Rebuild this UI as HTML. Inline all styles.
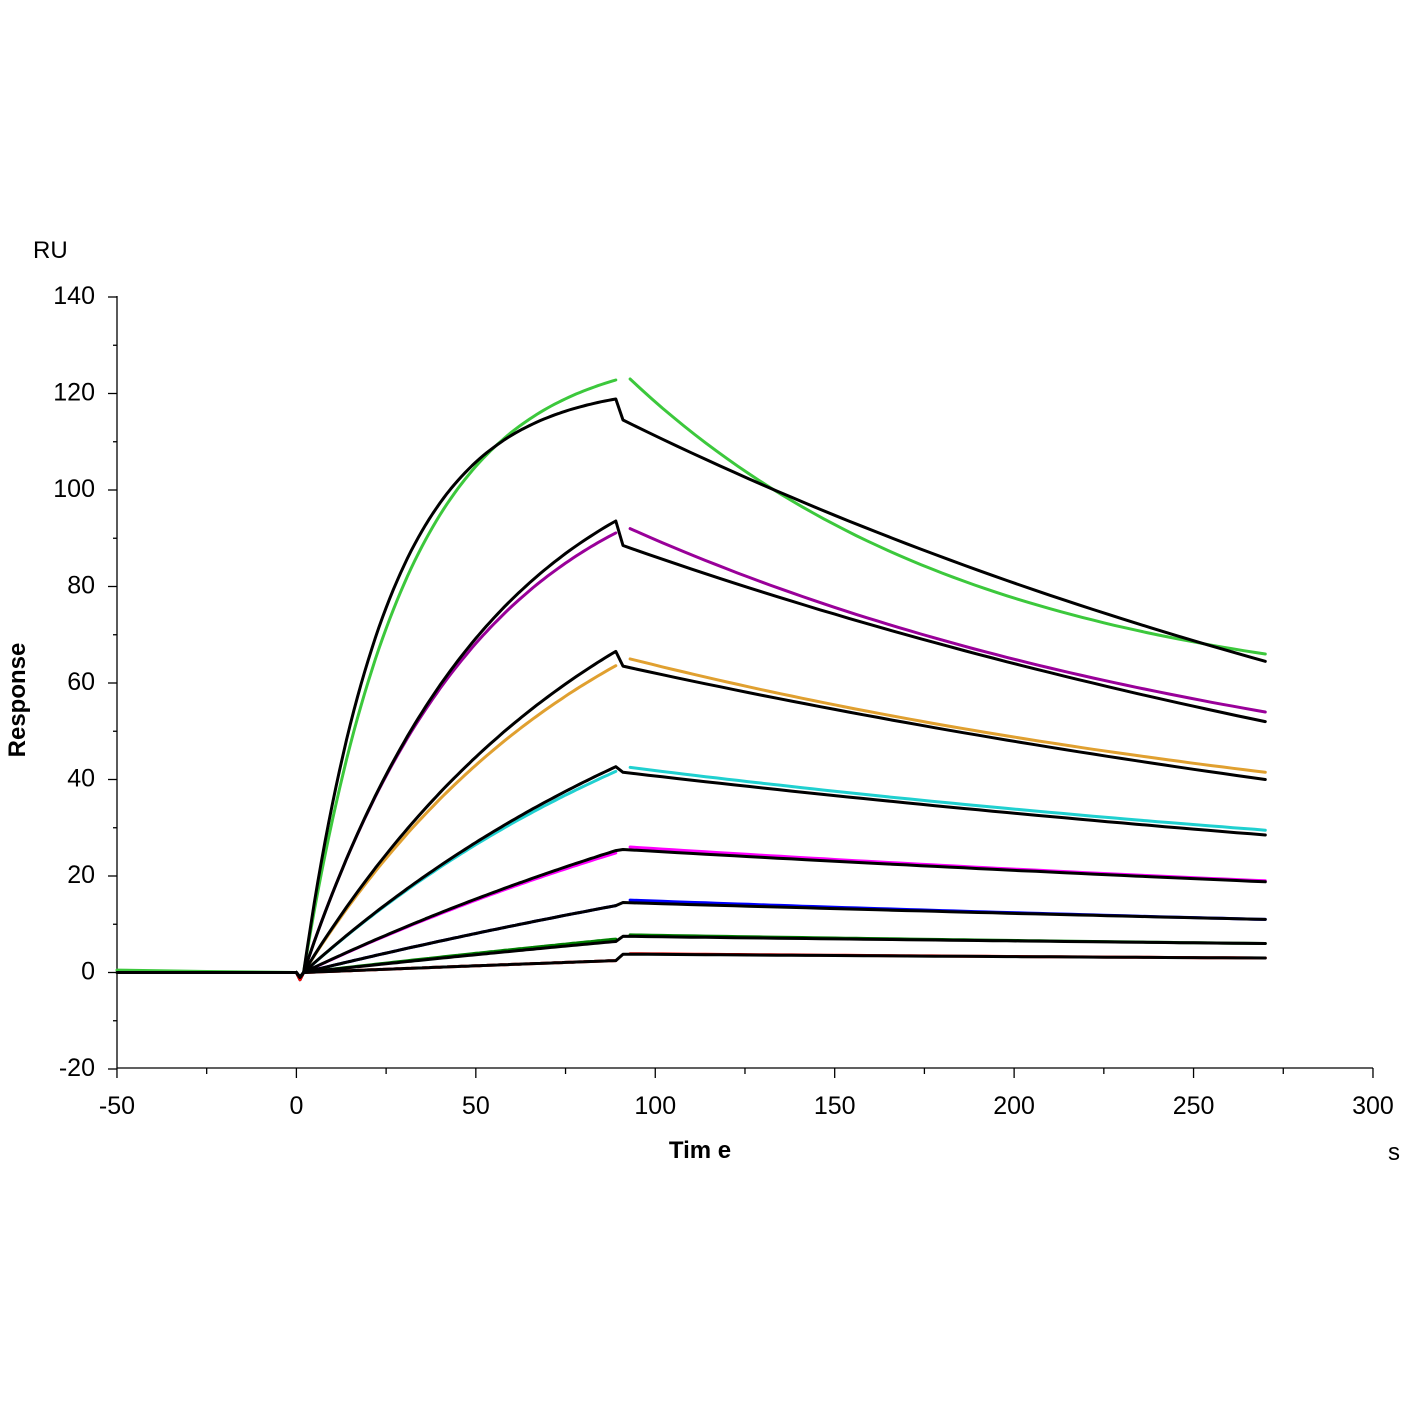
<!DOCTYPE html>
<html><head><meta charset="utf-8"><style>
html,body{margin:0;padding:0;background:#fff;}
svg text{font-family:"Liberation Sans",sans-serif;fill:#000;}
</style></head><body>
<svg id="s" width="1401" height="1401" viewBox="0 0 1401 1401" xmlns="http://www.w3.org/2000/svg">
<rect width="1401" height="1401" fill="#fff"/>
<g id="axes" stroke="#000" stroke-width="1.3"></g>
<g id="curves" fill="none" stroke-linejoin="round" stroke-linecap="round"></g>
<g id="labels" font-size="25"></g>
<text x="33" y="258" font-size="24">RU</text>
<text transform="translate(25,700) rotate(-90)" text-anchor="middle" font-size="24" font-weight="bold">Response</text>
<text x="700" y="1158" text-anchor="middle" font-size="24" font-weight="bold">Tim e</text>
<text x="1388" y="1160" font-size="24">s</text>
</svg>
<script>
var X=function(t){return 296.4+t*3.5886;};
var Y=function(v){return 972.5-v*4.825;};
var NS="http://www.w3.org/2000/svg";
var ax=document.getElementById('axes'),lb=document.getElementById('labels'),cv=document.getElementById('curves');
function line(x1,y1,x2,y2,p){var l=document.createElementNS(NS,'line');l.setAttribute('x1',x1);l.setAttribute('y1',y1);l.setAttribute('x2',x2);l.setAttribute('y2',y2);(p||ax).appendChild(l);}
function text(x,y,s,a){var t=document.createElementNS(NS,'text');t.setAttribute('x',x);t.setAttribute('y',y);t.setAttribute('text-anchor',a);t.textContent=s;lb.appendChild(t);}
line(117,296,117,1068);line(117,1068,1373,1068);
for(var v=-20;v<=140;v+=10){var y=Y(v);if(v%20==0){line(108,y,117,y);text(95,y+7,String(v),'end');}else line(113,y,117,y);}
for(var t=-50;t<=300;t+=25){var x=X(t);if(t%50==0){line(x,1068,x,1078);text(x,1114,String(t),'middle');}else line(x,1068,x,1074);}
function path(pts,col,w){var p=document.createElementNS(NS,'path');p.setAttribute('d','M'+pts.map(function(q){return X(q[0]).toFixed(1)+','+Y(q[1]).toFixed(1);}).join('L'));p.setAttribute('stroke',col);p.setAttribute('stroke-width',w);cv.appendChild(p);}
function assoc(peak,k,t){return peak*(1-Math.exp(-k*(t-2)))/(1-Math.exp(-k*88));}
function diss(d0,end,off,t0,t){var k=Math.log((d0-off)/(end-off))/(270-t0);return off+(d0-off)*Math.exp(-k*(t-t0));}
// [color, dataPeak, k, dataD0, dataEnd, dataOff, fitPeak, fitD0, fitEnd, fitK]
var S=[
['#3cc83c',123,0.035,123,66,55,119,114.5,64.5,0.042],
['#990099',91.5,0.02,92,54,30,94,88.5,52,0.019],
['#e0a030',64,0.012,65,41.5,20,67,63.5,40,0.0115],
['#20d0d0',42,0.008,42.5,29.5,10,43,41.5,28.5,0.0076],
['#ff00ff',25,0.005,26,19,5,25.5,25.5,18.8,0.0048],
['#0000ff',14,0.003,15,11,3,14,14.5,11,0.003],
['#008000',7,0.002,7.8,6,2,6.5,7.5,6,0.002],
['#ff0000',2.5,0.001,3.9,3,1,2.5,3.8,3,0.001]];
path([[-50,0.5],[-25,0.2],[0,0]],'#3cc83c',3);
S.forEach(function(s){
 var a=[[0,0],[1,-1.5]];for(var t=2;t<=89;t+=1)a.push([t,assoc(s[1],s[2],t)]);path(a,s[0],3);
 var d=[];for(var t=93;t<=270;t+=3)d.push([t,diss(s[3],s[4],s[5],93,t)]);path(d,s[0],3);
});
path([[-50,0],[0,0]],'#000',3);
S.forEach(function(s){
 var a=[[0,0],[1,-1]];for(var t=2;t<=89;t+=1)a.push([t,assoc(s[6],s[9],t)]);
 a.push([91,s[7]]);for(var t=94;t<=270;t+=4)a.push([t,diss(s[7],s[8],0,91,t)]);path(a,'#000',3);
});
</script>
</body></html>
